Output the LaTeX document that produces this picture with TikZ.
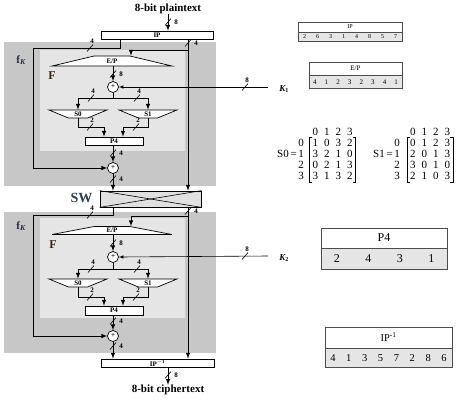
\documentclass[tikz,border=0pt]{standalone}
\usepackage{fontspec}
\setmainfont{Liberation Serif}
\usetikzlibrary{shapes.geometric,arrows,fit,matrix,positioning}
\definecolor{fkcol}{RGB}{35,45,75}
\definecolor{fcol}{RGB}{60,35,25}
\definecolor{swcol}{RGB}{45,60,85}

\begin{document}
\begin{tikzpicture}[x=1pt,y=-1pt,>=latex]
\tikzstyle{box}=[rectangle,draw,fill=white,line width=0.7pt,inner sep=0pt,
font=\fontsize{7}{7}\selectfont\bfseries]
\tikzstyle{xor}=[circle,draw,fill=white,line width=0.7pt,inner sep=0pt,
minimum size=11pt,font=\fontsize{7}{7}\selectfont\bfseries]
\tikzstyle{expand}=[trapezium,draw,fill=white,line width=0.7pt,inner sep=0pt,
trapezium stretches=true,trapezium angle=20,minimum width=120pt,
font=\fontsize{7}{7}\selectfont\bfseries]
\tikzstyle{sub}=[trapezium,draw,fill=white,line width=0.7pt,inner sep=0pt,
trapezium stretches=true,trapezium angle=32,shape border rotate=180,
minimum width=58pt,minimum height=8pt,font=\fontsize{7}{7}\selectfont\bfseries]
\tikzstyle{wire}=[line width=1pt]
\tikzstyle{lbl}=[inner sep=0pt,font=\fontsize{7}{7}\selectfont\bfseries]
\tikzstyle{big}=[inner sep=0pt,font=\fontsize{11}{11}\selectfont\bfseries]
\tikzstyle{tabhead}=[rectangle,draw=black!70,fill=white,line width=0.5pt,inner sep=0pt]
\tikzstyle{tabrow}=[matrix of nodes,draw=black!70,fill=black!10,line width=0.5pt,
inner sep=0pt,column sep=0pt]
\tikzstyle{sbmat}=[matrix of nodes,inner sep=0pt,column sep=0pt,row sep=0pt,
nodes={inner sep=0pt,minimum width=11.5pt,minimum height=11pt,
font=\fontsize{11}{11}\selectfont}]
\tikzstyle{sbrows}=[matrix of nodes,inner sep=0pt,row sep=0pt,
nodes={inner sep=0pt,minimum width=6pt,minimum height=11pt,
font=\fontsize{11}{11}\selectfont}]
\tikzstyle{bracket}=[line width=0.6pt]
\tikzset{
pics/vbus/.style={code={\draw[line width=0.6pt] (-3pt,-3.5pt) -- (3pt,3.5pt);
\node[lbl] (-t) at (8pt,0pt) {#1};}},
pics/hbus/.style={code={\draw[line width=0.6pt] (-3pt,-3.5pt) -- (3pt,3.5pt);
\node[lbl] (-t) at (2pt,7pt) {#1};}}}

\useasboundingbox (0,0) rectangle (474,400);

% grey frames of the two rounds
\fill[black!22] (4,42) rectangle (216,186);
\fill[black!10] (40,50) rectangle (185,151);
\fill[black!22] (4,212) rectangle (216,353);
\fill[black!10] (40,218) rectangle (185,318);

\node[big] (pt) at (168,9) {8-bit plaintext};
\node[box,minimum width=112pt,minimum height=8pt] (ip) at (157,35) {IP};

% round 1
\node[big,text=fkcol] (fk1) at (21,60) {f\textsubscript{\itshape K}};
\node[big,text=fcol,font=\fontsize{12}{12}\selectfont\bfseries] (f1) at (52,76) {F};
\node[expand,minimum height=10pt] (ep1) at (112,61) {E/P};
\node[xor] (x1) at (113,87) {+};
\node[sub] (s01) at (78,114) {S0};
\node[sub] (s11) at (148,114) {S1};
\node[box,minimum width=58pt,minimum height=8pt] (p41) at (114,141) {P4};
\node[xor] (x2) at (113,168) {+};
\node[big,font=\fontsize{9}{9}\selectfont\bfseries] (k1) at (284,89) {\itshape K\textsubscript{\upshape 1}};
\coordinate (k1e) at (268,87);

\node[box,fill=black!12,minimum width=101pt,minimum height=16pt] (sw) at (150.5,199) {};
\node[big,text=swcol,font=\fontsize{14}{14}\selectfont\bfseries] (swt) at (81.5,198) {SW};

% round 2
\node[big,text=fkcol] (fk2) at (21,226) {f\textsubscript{\itshape K}};
\node[big,text=fcol,font=\fontsize{12}{12}\selectfont\bfseries] (f2) at (53,245) {F};
\node[expand,minimum height=8pt] (ep2) at (112,230.5) {E/P};
\node[xor] (x3) at (113,257) {+};
\node[sub] (s02) at (78,283) {S0};
\node[sub] (s12) at (148,283) {S1};
\node[box,minimum width=58pt,minimum height=9pt] (p42) at (114,310.5) {P4};
\node[xor] (x4) at (113,336) {+};
\node[big,font=\fontsize{9}{9}\selectfont\bfseries] (k2) at (284,258) {\itshape K\textsubscript{\upshape 2}};
\coordinate (k2e) at (268,256);

\node[box,minimum width=113pt,minimum height=8pt] (ipi) at (157.5,363) {IP\textsuperscript{$-$1}};
\node[big] (ct) at (168,390) {8-bit ciphertext};

% wires round 1
\coordinate (a1) at (120,48);
\coordinate (a2) at (33,48);
\coordinate (b1) at (188,50);
\coordinate (b2) at (131,50);
\coordinate (c1) at (113,98);
\coordinate (d1) at (104,127);
\coordinate (d2) at (123,127);
\draw[wire,->] (pt.south) -- (ip.north -| pt.south);
\draw[wire,->] (ip.south -| a1) -- (a1) -- (a2) |- (x2.west);
\draw[wire,->] (ip.south -| b1) -- (sw.north -| b1);
\draw[wire,->] (b1) -- (b2) -- (b2 |- ep1.north);
\draw[wire,->] (ep1.south -| x1) -- (x1.north);
\draw[line width=0.6pt,->] (k1e) -- (x1.east);
\draw[wire,->] (x1.south) -- (c1) -| (s01.north);
\draw[wire,->] (c1) -| (s11.north);
\draw[wire,->] (s01.south) |- (d1) -- (d1 |- p41.north);
\draw[wire,->] (s11.south) |- (d2) -- (d2 |- p41.north);
\draw[wire,->] (p41.south -| x2) -- (x2.north);
\draw[wire,->] (x2.south) -- (sw.north -| x2);
\draw[line width=0.6pt] (sw.north west) -- (sw.south east);
\draw[line width=0.6pt] (sw.south west) -- (sw.north east);

% wires round 2
\coordinate (a3) at (113,215);
\coordinate (a4) at (33,215);
\coordinate (b3) at (188,216);
\coordinate (b4) at (131,216);
\coordinate (c2) at (113,269);
\coordinate (d3) at (104,297);
\coordinate (d4) at (123,297);
\draw[wire,->] (sw.south -| a3) -- (a3) -- (a4) |- (x4.west);
\draw[wire,->] (sw.south -| b3) -- (ipi.north -| b3);
\draw[wire,->] (b3) -- (b4) -- (b4 |- ep2.north);
\draw[wire,->] (ep2.south -| x3) -- (x3.north);
\draw[line width=0.6pt,->] (k2e) -- (x3.east);
\draw[wire,->] (x3.south) -- (c2) -| (s02.north);
\draw[wire,->] (c2) -| (s12.north);
\draw[wire,->] (s02.south) |- (d3) -- (d3 |- p42.north);
\draw[wire,->] (s12.south) |- (d4) -- (d4 |- p42.north);
\draw[wire,->] (p42.south -| x4) -- (x4.north);
\draw[wire,->] (x4.south) -- (ipi.north -| x4);
\draw[wire,->] (ipi.south -| ct) -- (ct.north);

% bus widths
\pic (w1) at (168,22) {vbus=8};
\pic (w2) at (90,48) {hbus=4};
\pic (w3) at (188,43) {vbus=4};
\pic (w4) at (113,74) {vbus=8};
\pic (w5) at (245,87) {hbus=8};
\pic (w6) at (91,98) {hbus=4};
\pic (w7) at (137,98) {hbus=4};
\pic (w8) at (90,127) {hbus=2};
\pic (w9) at (136,127) {hbus=2};
\pic (w10) at (113,153) {vbus=4};
\pic (w11) at (113,179) {vbus=4};
\pic (w12) at (90,215) {hbus=4};
\pic (w13) at (188,211) {vbus=4};
\pic (w14) at (113,243) {vbus=8};
\pic (w15) at (245,256) {hbus=8};
\pic (w16) at (91,269) {hbus=4};
\pic (w17) at (137,269) {hbus=4};
\pic (w18) at (90,297) {hbus=2};
\pic (w19) at (136,297) {hbus=2};
\pic (w20) at (113,321) {vbus=4};
\pic (w21) at (113,346) {vbus=4};
\pic (w22) at (168,375) {vbus=8};

% permutation tables
\node[tabhead,minimum width=104pt,minimum height=10pt,font=\fontsize{6}{6}\selectfont] (iptab) at (350,27) {IP};
\matrix[tabrow,below=0pt of iptab,nodes={inner sep=0pt,minimum width=13pt,minimum height=9pt,
font=\fontsize{6}{6}\selectfont}] (iprow) {2&6&3&1&4&8&5&7\\};
\node[tabhead,minimum width=93pt,minimum height=13pt,font=\fontsize{7}{7}\selectfont] (eptab) at (355.5,68.5) {E/P};
\matrix[tabrow,below=0pt of eptab,nodes={inner sep=0pt,minimum width=11.625pt,minimum height=13pt,
font=\fontsize{7}{7}\selectfont}] (eprow) {4&1&2&3&2&3&4&1\\};
\node[tabhead,minimum width=126pt,minimum height=20pt,font=\fontsize{12}{12}\selectfont] (p4tab) at (384,238) {P4};
\matrix[tabrow,below=0pt of p4tab,nodes={inner sep=0pt,minimum width=31.5pt,minimum height=21pt,
font=\fontsize{12}{12}\selectfont}] (p4row) {2&4&3&1\\};
\node[tabhead,minimum width=127pt,minimum height=21pt,font=\fontsize{10.5}{10.5}\selectfont] (ipitab) at (388.5,337.5) {IP\textsuperscript{-1}};
\matrix[tabrow,below=0pt of ipitab,nodes={inner sep=0pt,minimum width=15.875pt,minimum height=19pt,
font=\fontsize{10.5}{10.5}\selectfont}] (ipirow) {4&1&3&5&7&2&8&6\\};

% S-boxes
\matrix[sbmat] (s0h) at (332.5,132) {0&1&2&3\\};
\matrix[sbrows] (s0r) at (301,159.5) {0\\1\\2\\3\\};
\matrix[sbmat] (s0m) at (332.5,159.5)
{1&0&3&2\\3&2&1&0\\0&2&1&3\\3&1&3&2\\};
\draw[bracket] ([xshift=3pt]s0m.north west) -- (s0m.north west) -- (s0m.south west) -- ([xshift=3pt]s0m.south west);
\draw[bracket] ([xshift=-3pt]s0m.north east) -- (s0m.north east) -- (s0m.south east) -- ([xshift=-3pt]s0m.south east);
\node[inner sep=0pt,anchor=east,font=\fontsize{11}{11}\selectfont] (s0t) at (297,154) {S0\,=};
\matrix[sbmat] (s1h) at (430,132) {0&1&2&3\\};
\matrix[sbrows] (s1r) at (397,159.5) {0\\1\\2\\3\\};
\matrix[sbmat] (s1m) at (430,159.5)
{0&1&2&3\\2&0&1&3\\3&0&1&0\\2&1&0&3\\};
\draw[bracket] ([xshift=3pt]s1m.north west) -- (s1m.north west) -- (s1m.south west) -- ([xshift=3pt]s1m.south west);
\draw[bracket] ([xshift=-3pt]s1m.north east) -- (s1m.north east) -- (s1m.south east) -- ([xshift=-3pt]s1m.south east);
\node[inner sep=0pt,anchor=east,font=\fontsize{11}{11}\selectfont] (s1t) at (393,154) {S1\,=};

\end{tikzpicture}
\end{document}
